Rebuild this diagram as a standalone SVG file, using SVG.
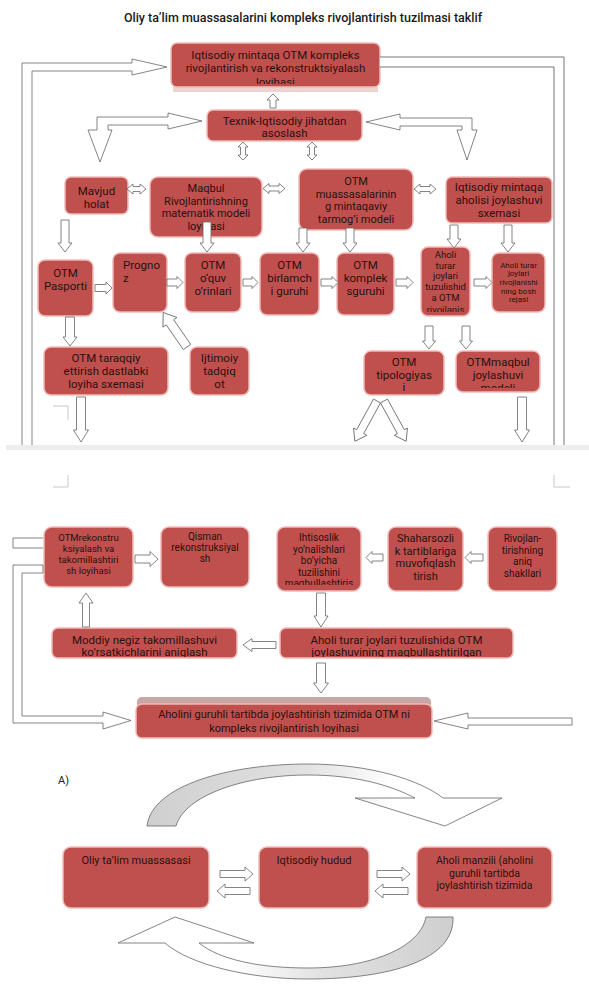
<svg xmlns="http://www.w3.org/2000/svg" width="589" height="989" viewBox="0 0 589 989">
<style>
.bx{fill:#c0504d;stroke:#efbab8;stroke-width:1.5}
.t{font-family:Roboto,"Liberation Sans",Arial,sans-serif;fill:#2a1010;text-anchor:middle}
.f8{font-size:8px}.f95{font-size:9.5px}.f10{font-size:10px}.f105{font-size:10.5px}.f11{font-size:11px}.f115{font-size:11.5px}.f12{font-size:12px}
.ar{fill:#fff;stroke:#666;stroke-width:0.8;stroke-linejoin:miter}
.ln{fill:none;stroke:#666;stroke-width:0.9}
.nf{fill:#fff;stroke:none}
.mk{fill:none;stroke:#c8c8c8;stroke-width:1}
</style>
<defs>
<linearGradient id="gTop" x1="0" y1="0" x2="1" y2="0">
<stop offset="0" stop-color="#cfcfcf"/><stop offset="0.45" stop-color="#e2e2e2"/><stop offset="0.7" stop-color="#ffffff"/>
</linearGradient>
<linearGradient id="gBot" x1="1" y1="0" x2="0" y2="0">
<stop offset="0" stop-color="#cfcfcf"/><stop offset="0.4" stop-color="#e2e2e2"/><stop offset="0.65" stop-color="#ffffff"/>
</linearGradient>
<clipPath id="cTop"><rect x="171" y="43" width="209" height="41"/></clipPath>
<clipPath id="cAhA"><rect x="421" y="247" width="49" height="65"/></clipPath>
<clipPath id="cMaq"><rect x="456" y="351" width="84" height="37"/></clipPath>
<clipPath id="cIht"><rect x="277" y="527" width="84" height="58"/></clipPath>
<clipPath id="cMod"><rect x="52" y="628" width="185" height="29"/></clipPath>
<clipPath id="cAhB"><rect x="280" y="628" width="233" height="29"/></clipPath>
</defs>
<rect width="589" height="989" fill="#fff"/>
<text x="303" y="22" style="font-family:Roboto,'Liberation Sans',Arial,sans-serif;font-size:12.5px;font-weight:500;fill:#1a1a1a;text-anchor:middle">Oliy ta’lim muassasalarini kompleks rivojlantirish tuzilmasi taklif</text>
<rect x="6" y="445" width="583" height="5" fill="#ededed"/>
<g id="marks">
<path class="mk" d="M53,406 H68 V420"/>
<path class="mk" d="M53,487 H68 V475"/>
<path class="mk" d="M554,475 V487 H570"/>
</g>

<g id="n-top">
<rect x="173" y="87" width="205" height="5" fill="#ecd3d2"/>
<rect class="bx" x="171" y="43" width="209" height="44" rx="6"/>
<g clip-path="url(#cTop)">
<text class="t f115" x="275.5" y="58.5">Iqtisodiy mintaqa OTM kompleks</text>
<text class="t f115" x="275.5" y="72">rivojlantirish va rekonstruktsiyalash</text>
<text class="t f115" x="275.5" y="86">loyihasi</text>
</g>
</g>
<g id="n-texnik">
<rect class="bx" x="207" y="110" width="155" height="31" rx="6"/>
<text class="t f115" x="284.5" y="124.5">Texnik-Iqtisodiy jihatdan</text>
<text class="t f115" x="284.5" y="137">asoslash</text>
</g>
<g id="n-mavjud">
<rect class="bx" x="65" y="177" width="63" height="37" rx="6"/>
<text class="t f115" x="96.5" y="195">Mavjud</text>
<text class="t f115" x="96.5" y="208">holat</text>
</g>
<g id="n-maqbul">
<rect class="bx" x="150" y="177" width="112" height="60" rx="8"/>
<text class="t f11" x="206" y="192">Maqbul</text>
<text class="t f11" x="206" y="204.5">Rivojlantirishning</text>
<text class="t f11" x="206" y="217">matematik modeli</text>
<text class="t f11" x="206" y="229.5">loyihasi</text>
</g>
<g id="n-tarmoq">
<rect class="bx" x="299" y="169" width="114" height="61" rx="8"/>
<text class="t f11" x="356" y="185">OTM</text>
<text class="t f11" x="356" y="197.5">muassasalarinin</text>
<text class="t f11" x="356" y="210">g mintaqaviy</text>
<text class="t f11" x="356" y="222.5">tarmog’i modeli</text>
</g>
<g id="n-aholisi">
<rect class="bx" x="446" y="177" width="106" height="46" rx="6"/>
<text class="t f115" x="499" y="191">Iqtisodiy mintaqa</text>
<text class="t f115" x="499" y="204">aholisi joylashuvi</text>
<text class="t f115" x="499" y="217">sxemasi</text>
</g>
<g id="n-pasport">
<rect class="bx" x="38" y="260" width="55" height="56" rx="7"/>
<text class="t f115" x="65.5" y="276.5">OTM</text>
<text class="t f115" x="65.5" y="290">Pasporti</text>
</g>
<g id="n-prognoz">
<rect class="bx" x="113" y="253" width="54" height="59" rx="7"/>
<text class="t f115" x="123" y="268.5" style="text-anchor:start">Progno</text>
<text class="t f115" x="123" y="281.5" style="text-anchor:start">z</text>
</g>
<g id="n-oquv">
<rect class="bx" x="185" y="253" width="56" height="59" rx="7"/>
<text class="t f115" x="213" y="268.5">OTM</text>
<text class="t f115" x="213" y="281.5">o‘quv</text>
<text class="t f115" x="213" y="294.5">o’rinlari</text>
</g>
<g id="n-birlamchi">
<rect class="bx" x="260" y="253" width="59" height="62" rx="7"/>
<text class="t f115" x="289.5" y="268.5">OTM</text>
<text class="t f115" x="289.5" y="281.5">birlamch</text>
<text class="t f115" x="289.5" y="294.5">i guruhi</text>
</g>
<g id="n-kompleks">
<rect class="bx" x="337" y="253" width="57" height="62" rx="7"/>
<text class="t f115" x="365.5" y="268.5">OTM</text>
<text class="t f115" x="365.5" y="281.5">komplek</text>
<text class="t f115" x="365.5" y="294.5">sguruhi</text>
</g>
<g id="n-aholi-tuzulish">
<rect class="bx" x="421" y="247" width="49" height="69" rx="7"/>
<g clip-path="url(#cAhA)">
<text class="t f95" x="445.5" y="258">Aholi</text>
<text class="t f95" x="445.5" y="268.7">turar</text>
<text class="t f95" x="445.5" y="279.4">joylari</text>
<text class="t f95" x="445.5" y="290.1">tuzulishid</text>
<text class="t f95" x="445.5" y="300.8">a OTM</text>
<text class="t f95" x="445.5" y="312.5">rivojlanis</text>
</g>
</g>
<g id="n-bosh-reja">
<rect class="bx" x="492" y="253" width="53" height="59" rx="7"/>
<text class="t f8" x="518.5" y="267.5">Aholi turar</text>
<text class="t f8" x="518.5" y="276.2">joylari</text>
<text class="t f8" x="518.5" y="284.9">rivojlanishi</text>
<text class="t f8" x="518.5" y="293.6">ning bosh</text>
<text class="t f8" x="518.5" y="302.3">rejasi</text>
</g>
<g id="n-taraqqiy">
<rect class="bx" x="44" y="347" width="124" height="48" rx="7"/>
<text class="t f115" x="106" y="361.5">OTM taraqqiy</text>
<text class="t f115" x="106" y="374.5">ettirish dastlabki</text>
<text class="t f115" x="106" y="387.5">loyiha sxemasi</text>
</g>
<g id="n-ijtimoiy">
<rect class="bx" x="190" y="347" width="59" height="48" rx="7"/>
<text class="t f115" x="219.5" y="361.5">Ijtimoiy</text>
<text class="t f115" x="219.5" y="374.5">tadqiq</text>
<text class="t f115" x="219.5" y="387.5">ot</text>
</g>
<g id="n-tipologiya">
<rect class="bx" x="364" y="351" width="80" height="44" rx="7"/>
<text class="t f115" x="404" y="366">OTM</text>
<text class="t f115" x="404" y="378.5">tipologiyas</text>
<text class="t f115" x="404" y="391">i</text>
</g>
<g id="n-maqbul-joy">
<rect class="bx" x="456" y="351" width="84" height="41" rx="7"/>
<g clip-path="url(#cMaq)">
<text class="t f115" x="498" y="365.5">OTMmaqbul</text>
<text class="t f115" x="498" y="378.5">joylashuvi</text>
<text class="t f115" x="498" y="391.5">modeli</text>
</g>
</g>

<g id="n-rekonstru">
<rect class="bx" x="44" y="527" width="89" height="60" rx="8"/>
<text class="t f95" x="88.5" y="541">OTMrekonstru</text>
<text class="t f95" x="88.5" y="552">ksiyalash va</text>
<text class="t f95" x="88.5" y="563">takomillashtiri</text>
<text class="t f95" x="88.5" y="574">sh loyihasi</text>
</g>
<g id="n-qisman">
<rect class="bx" x="161" y="527" width="88" height="60" rx="8"/>
<text class="t f10" x="205" y="540">Qisman</text>
<text class="t f10" x="205" y="551">rekonstruksiyal</text>
<text class="t f10" x="205" y="562">sh</text>
</g>
<g id="n-ihtisoslik">
<rect class="bx" x="277" y="527" width="84" height="64" rx="8"/>
<g clip-path="url(#cIht)">
<text class="t f10" x="319" y="541">Ihtisoslik</text>
<text class="t f10" x="319" y="552.5">yo’nalishlari</text>
<text class="t f10" x="319" y="564">bo’yicha</text>
<text class="t f10" x="319" y="575.5">tuzilishini</text>
<text class="t f10" x="319" y="587">maqbullashtiris</text>
</g>
</g>
<g id="n-shaharsozlik">
<rect class="bx" x="388" y="527" width="75" height="64" rx="8"/>
<text class="t f11" x="425.5" y="542">Shaharsozli</text>
<text class="t f11" x="425.5" y="554.5">k tartiblariga</text>
<text class="t f11" x="425.5" y="567">muvofiqlash</text>
<text class="t f11" x="425.5" y="579.5">tirish</text>
</g>
<g id="n-shakllar">
<rect class="bx" x="488" y="527" width="69" height="64" rx="8"/>
<text class="t f10" x="522.5" y="542">Rivojlan-</text>
<text class="t f10" x="522.5" y="553.5">tirishning</text>
<text class="t f10" x="522.5" y="565">aniq</text>
<text class="t f10" x="522.5" y="576.5">shakllari</text>
</g>
<g id="n-moddiy">
<rect class="bx" x="52" y="628" width="185" height="30" rx="6"/>
<g clip-path="url(#cMod)">
<text class="t f115" x="144.5" y="643.5">Moddiy negiz takomillashuvi</text>
<text class="t f115" x="144.5" y="656">ko’rsatkichlarini aniqlash</text>
</g>
</g>
<g id="n-aholi-joylashuv">
<rect class="bx" x="280" y="628" width="233" height="30" rx="6"/>
<g clip-path="url(#cAhB)">
<text class="t f115" x="396.5" y="643.5">Aholi turar joylari tuzulishida OTM</text>
<text class="t f115" x="396.5" y="656">joylashuvining maqbullashtirilgan</text>
</g>
</g>
<g id="n-kompleks-loyiha">
<rect x="137" y="697" width="294" height="12" rx="5" fill="#c8a6a6"/>
<rect class="bx" x="136" y="704" width="296" height="34" rx="6"/>
<text class="t f11" x="284" y="718">Aholini guruhli tartibda joylashtirish tizimida OTM ni</text>
<text class="t f11" x="284" y="732">kompleks rivojlantirish loyihasi</text>
</g>

<text x="58" y="784" style="font-family:Roboto,'Liberation Sans',Arial,sans-serif;font-size:11px;fill:#222">A)</text>
<g id="n-oliy">
<rect class="bx" x="63" y="847" width="146" height="61" rx="8"/>
<text class="t f11" x="136" y="864">Oliy ta’lim muassasasi</text>
</g>
<g id="n-hudud">
<rect class="bx" x="259" y="847" width="110" height="61" rx="8"/>
<text class="t f11" x="314" y="864">Iqtisodiy hudud</text>
</g>
<g id="n-manzil">
<rect class="bx" x="417" y="847" width="135" height="61" rx="8"/>
<text class="t f105" x="484.5" y="864">Aholi manzili (aholini</text>
<text class="t f105" x="484.5" y="876.5">guruhli tartibda</text>
<text class="t f105" x="484.5" y="889">joylashtirish tizimida</text>
</g>

<g id="connectors">
<path class="ar" d="M22,445 V63 H132 V59 L167,67 L132,75 V71 H32 V445"/>
<polygon class="nf" points="380,57 564,57 564,445 554,445 554,67 380,67"/>
<path class="ln" d="M380,57 H564 V445 M554,445 V67 H380"/>
<polygon class="ar" points="273,94 279,100 276,100 276,108 270,108 270,100 267,100"/>
<path class="ar" d="M97,117 H168 V113 L202,121 L168,129 V125 H108 V130 H112 L100,162 L88,130 H97 Z"/>
<path class="ar" d="M366,122 L400,114 V118 H472 V130 H477 L467,160 L457,130 H462 V126 H400 V130 Z"/>
<polygon class="ar" points="243,142 248,147 245.5,147 245.5,155 248,155 243,160 238,155 240.5,155 240.5,147 238,147"/>
<polygon class="ar" points="312,142 317,147 314.5,147 314.5,155 317,155 312,160 307,155 309.5,155 309.5,147 307,147"/>
<polygon class="ar" points="127,189 133,184 133,186.5 140,186.5 140,184 146,189 140,194 140,191.5 133,191.5 133,194"/>
<polygon class="ar" points="263,188.5 269,183.5 269,186 279,186 279,183.5 285,188.5 279,193.5 279,191 269,191 269,193.5"/>
<polygon class="ar" points="414,189 420,184 420,186.5 430,186.5 430,184 436,189 430,194 430,191.5 420,191.5 420,194"/>
<polygon class="ar" points="61,220 69,220 69,243 72,243 65,252 58,243 61,243"/>
<polygon class="ar" points="203,222 211,222 211,243 214,243 207,252 200,243 203,243"/>
<polygon class="ar" points="299,228 307,228 307,243 310,243 303,252 296,243 299,243"/>
<polygon class="ar" points="346,228 354,228 354,243 357,243 350,252 343,243 346,243"/>
<polygon class="ar" points="450,225 458,225 458,239 461,239 454,248 447,239 450,239"/>
<polygon class="ar" points="504,225 512,225 512,243 515,243 508,252 501,243 504,243"/>
<polygon class="ar" points="95,284.5 106,284.5 106,282 112,288 106,294 106,291.5 95,291.5"/>
<polygon class="ar" points="167,279 177,279 177,276.5 183,282.5 177,288.5 177,286 167,286"/>
<polygon class="ar" points="243,279 252,279 252,276.5 258,282.5 252,288.5 252,286 243,286"/>
<polygon class="ar" points="321,279 332,279 332,276.5 338,282.5 332,288.5 332,286 321,286"/>
<polygon class="ar" points="396,279 407,279 407,276.5 413,282.5 407,288.5 407,286 396,286"/>
<polygon class="ar" points="474,279 486,279 486,276.5 492,282.5 486,288.5 486,286 474,286"/>
<polygon class="ar" points="65.5,317 74.5,317 74.5,337 77,337 70,346 63,337 65.5,337"/>
<polygon class="ar" transform="translate(187,347) rotate(-34.6)" points="-4.5,0 -4.5,-30 -8.5,-30 0,-42 8.5,-30 4.5,-30 4.5,0"/>
<polygon class="ar" points="425,326 433,326 433,341 435.5,341 429,349 422.5,341 425,341"/>
<polygon class="ar" points="462,326 470,326 470,341 472.5,341 466,349 459.5,341 462,341"/>
<polygon class="ar" points="76.5,397 85.5,397 85.5,430 88.5,430 81,442 73.5,430 76.5,430"/>
<polygon class="ar" transform="translate(377,401) rotate(28.8)" points="-4,0 4,0 4,35 7.5,35 0,46 -7.5,35 -4,35"/>
<polygon class="ar" transform="translate(384,401) rotate(-28.8)" points="-4,0 4,0 4,35 7.5,35 0,46 -7.5,35 -4,35"/>
<polygon class="ar" points="517.5,397 526.5,397 526.5,430 529.5,430 522,442 514.5,430 517.5,430"/>

<path class="ar" d="M43,538 H13 V548 H43"/>
<path class="ar" d="M43,565 H13 V723 H103 V729 L131,720.5 L103,712 V716 H22 V573 H43 Z"/>
<polygon class="ar" points="135,555 150,555 150,551.5 158,559 150,566.5 150,563 135,563"/>
<polygon class="ar" points="383,554 372,554 372,551.5 366,557.5 372,563.5 372,561 383,561"/>
<polygon class="ar" points="483,554 471,554 471,551.5 465,557.5 471,563.5 471,561 483,561"/>
<polygon class="ar" points="316.5,593 325.5,593 325.5,616 328,616 321,627 314,616 316.5,616"/>
<polygon class="ar" points="86,593 93,603 89.5,603 89.5,627 82.5,627 82.5,603 79,603"/>
<polygon class="ar" points="276,641.5 252,641.5 252,638.5 243,645 252,651.5 252,648.5 276,648.5"/>
<polygon class="ar" points="316.5,663 325.5,663 325.5,683 328.5,683 321,693 313.5,683 316.5,683"/>
<polygon class="ar" points="572,718 468,718 468,713 434,721 468,729 468,725 572,725"/>

<polygon class="ar" points="220,870.5 245,870.5 245,867 253,874 245,881 245,877.5 220,877.5"/>
<polygon class="ar" points="250,887.5 225,887.5 225,884 217,891 225,898 225,894.5 250,894.5"/>
<polygon class="ar" points="377,870.5 402,870.5 402,867 410,874 402,881 402,877.5 377,877.5"/>
<polygon class="ar" points="408,887.5 383,887.5 383,884 375,891 383,898 383,894.5 408,894.5"/>
<path d="M147,826 C152,785 230,764 308,764 C370,764 420,780 443,798 L502,798 L445,826 L355,798 L415,798 C390,785 355,775 308,775 C245,775 185,795 176,826 Z" fill="url(#gTop)" stroke="#666" stroke-width="0.8"/>
<path d="M426,917 C420,948 370,968 308,968 C260,968 220,960 199,943 L254,943 L175,917 L118,943 L165,943 C190,965 250,979 308,979 C390,979 455,960 453,917 Z" fill="url(#gBot)" stroke="#666" stroke-width="0.8"/>
</g>
</svg>
